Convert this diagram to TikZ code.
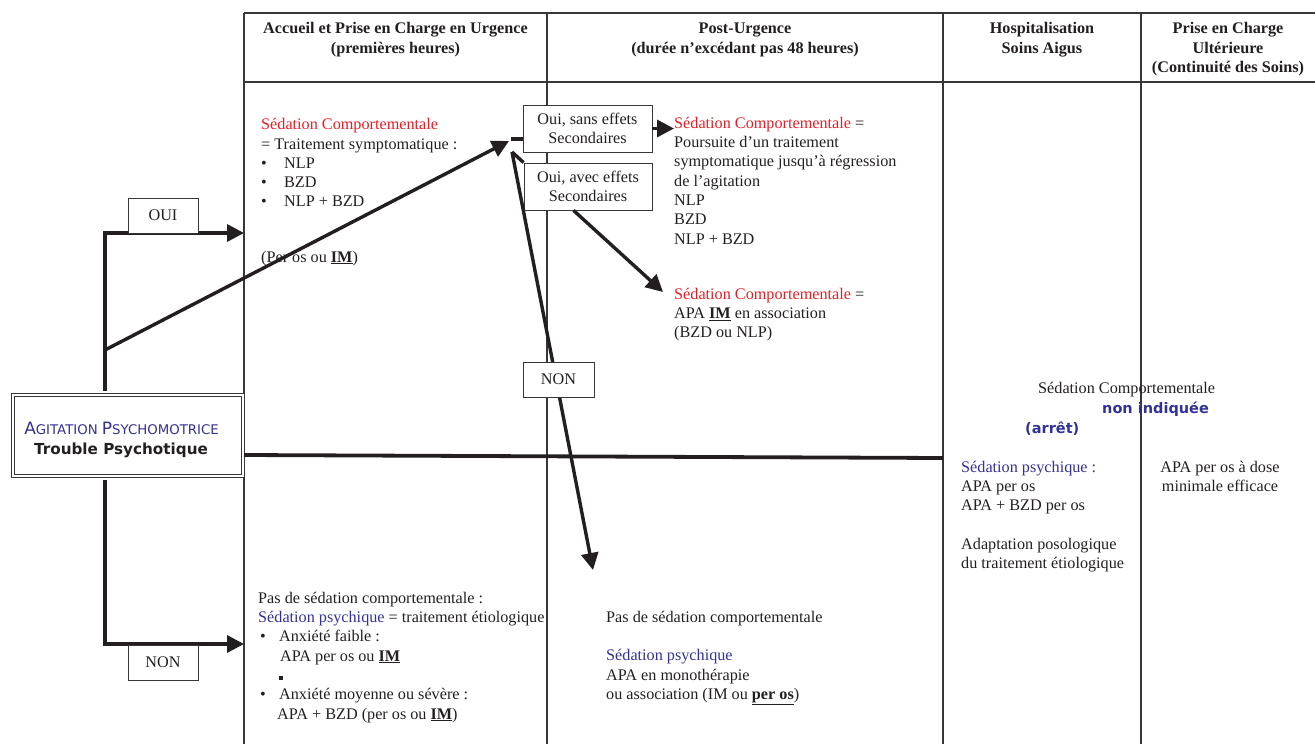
\documentclass[tikz,border=0pt]{standalone}
\usepackage{fontspec}
\setmainfont{Liberation Serif}
\newfontfamily\dvs{DejaVu Sans}
\usetikzlibrary{arrows.meta,calc}
\definecolor{ink}{RGB}{35,31,32}
\definecolor{redt}{RGB}{237,28,36}
\definecolor{bluet}{RGB}{50,50,150}
\definecolor{rule}{RGB}{55,55,55}
\newcommand\bodyf{\fontsize{16.2}{19.3}\selectfont}
\newcommand\blt{\makebox[23pt][l]{\textbullet}}
\newcommand\bltb{\makebox[21pt][l]{\hspace*{2pt}\textbullet}}
\newcommand\uIM[1]{\underline{\textbf{#1}}}
\begin{document}
\begin{tikzpicture}[x=1pt,y=-1pt,
  tbl/.style={draw=rule,line width=1.1pt},
  conn/.style={draw=ink,line width=3.4pt},
  arr/.style={-{Triangle[length=17pt,width=17pt]}},
  txt/.style={anchor=north west,inner sep=0pt,align=left,font=\bodyf,text=ink},
  txtb/.style={anchor=base west,inner sep=0pt,font=\bodyf,text=ink},
  hd/.style={anchor=north,inner sep=0pt,align=center,font=\bodyf\bfseries,text=ink},
  lab/.style={draw=rule,line width=0.9pt,fill=white,inner sep=0pt,align=center,font=\bodyf,text=ink}]
\useasboundingbox (0,0) rectangle (1315,744);
% table
\draw[tbl] (244,13) -- (1315,13);
\draw[tbl] (244,82) -- (1315,82);
\foreach \xx in {244,547,943,1141} \draw[tbl] (\xx,13) -- (\xx,744);
% headers
\node[hd] (h1) at (395.5,20) {\strut Accueil et Prise en Charge en Urgence\\(premières heures)};
\node[hd] (h2) at (745,20) {\strut Post-Urgence\\(durée n’excédant pas 48 heures)};
\node[hd] (h3) at (1042,20) {\strut Hospitalisation\\Soins Aigus};
\node[hd] (h4) at (1228,20) {\strut Prise en Charge\\Ultérieure\\(Continuité des Soins)};
% column 1 top
\node[txt] (c1a) at (261,116) {\strut{\color{redt}Sédation Comportementale}\\= Traitement symptomatique :\\\blt NLP\\\blt BZD\\\blt NLP + BZD};
\node[txtb] (c1b) at (261,262) {(Per os ou \uIM{IM})};
% column 2 top
\node[txt] (c2a) at (674,114.5) {\strut{\color{redt}Sédation Comportementale} =\\Poursuite d’un traitement\\symptomatique jusqu’à régression\\de l’agitation\\NLP\\BZD\\NLP + BZD};
\node[txt] (c2b) at (674,285.5) {\strut{\color{redt}Sédation Comportementale} =\\APA \uIM{IM} en association\\(BZD ou NLP)};
% centre right
\node[txtb] (sc) at (1038,393) {Sédation Comportementale};
\node[anchor=base west,inner sep=0pt,font=\dvs\bfseries\fontsize{14.5}{17}\selectfont,text=bluet] (ni) at (1102,413) {non indiquée};
\node[anchor=base west,inner sep=0pt,font=\dvs\bfseries\fontsize{14.5}{17}\selectfont,text=bluet] (ar) at (1025,433) {(arrêt)};
% column 3 and 4
\node[txt] (c3) at (961,458.5) {\strut{\color{bluet}Sédation psychique :}\\APA per os\\APA + BZD per os\\~\\Adaptation posologique\\du traitement étiologique};
\node[txt,anchor=north,align=center] (c4) at (1220,458.5) {\strut APA per os à dose\\minimale efficace};
% bottom column 1
\node[txt] (c1c) at (258,589.5) {\strut Pas de sédation comportementale :\\{\color{bluet}Sédation psychique} = traitement étiologique\\\bltb Anxiété faible :\\\hspace*{22pt}APA per os ou \uIM{IM}\\\hspace*{21pt}\rule{4pt}{4pt}\\\bltb Anxiété moyenne ou sévère :\\\hspace*{19pt}APA + BZD (per os ou \uIM{IM})};
% bottom column 2
\node[txt] (c2c) at (606,608.5) {\strut Pas de sédation comportementale\\~\\{\color{bluet}Sédation psychique}\\APA en monothérapie\\ou association (IM ou \uIM{per os})};
% main box
\node[draw=rule,double,double distance=2.2pt,line width=0.8pt,minimum width=230pt,minimum height=81pt,inner sep=0pt,fill=white] (agit) at (128,435.5) {};
\node[anchor=base,inner sep=0pt,font=\dvs,text=bluet] (agit1) at (121.5,434)
 {\fontsize{17}{17}\selectfont A\fontsize{13.3}{13.3}\selectfont GITATION \fontsize{17}{17}\selectfont P\fontsize{13.3}{13.3}\selectfont SYCHOMOTRICE};
\node[anchor=base,inner sep=0pt,font=\dvs\bfseries\fontsize{15.2}{17}\selectfont,text=ink] (agit2) at (121,454) {Trouble Psychotique};
% label boxes (positions)
\node[lab,minimum width=129pt,minimum height=47pt] (ouisans) at (587.5,128.5) {Oui, sans effets\\Secondaires};
\node[lab,minimum width=128pt,minimum height=47pt] (ouiavec) at (588,186.5) {Oui, avec effets\\Secondaires};
% connector coordinates
\coordinate (aTop) at (105,391);
\coordinate (aBot) at (105,480);
\coordinate (c1in) at (244,233);
\coordinate (c1low) at (244,644);
\coordinate (jA) at (105,350);
\coordinate (jB) at (509,141);
\coordinate (jD) at (511,139);
\coordinate (jC) at (512,152);
\coordinate (nonTip) at (593,570);
\coordinate (c2tip) at (674,128.5);
\coordinate (avTip) at (663,292);
\coordinate (hA) at (244,455);
\coordinate (hB) at (943,458);
% connectors
\draw[conn,arr] (aTop) |- (c1in);
\draw[conn,arr] (aBot) |- (c1low);
\draw[conn,arr] (jA) -- (jB);
\draw[conn] (jD) -- (ouisans.west |- jD);
\draw[conn] (jC) -- (ouiavec.north west);
\draw[conn,arr] (jC) -- (nonTip);
\draw[conn,arr] (ouisans.east) -- (c2tip);
\draw[conn,arr] ($(ouiavec.south west)+(50,0)$) -- (avTip);
\draw[conn,line width=3.8pt] (hA) -- (hB);
% labels on connectors
\node[lab,minimum width=70pt,minimum height=35pt] (oui) at (163,215.5) {OUI};
\node[lab,minimum width=70pt,minimum height=35pt] (non1) at (163,662.5) {NON};
\node[lab,minimum width=71pt,minimum height=35pt] (non2) at (558.5,379.5) {NON};
\end{tikzpicture}
\end{document}
